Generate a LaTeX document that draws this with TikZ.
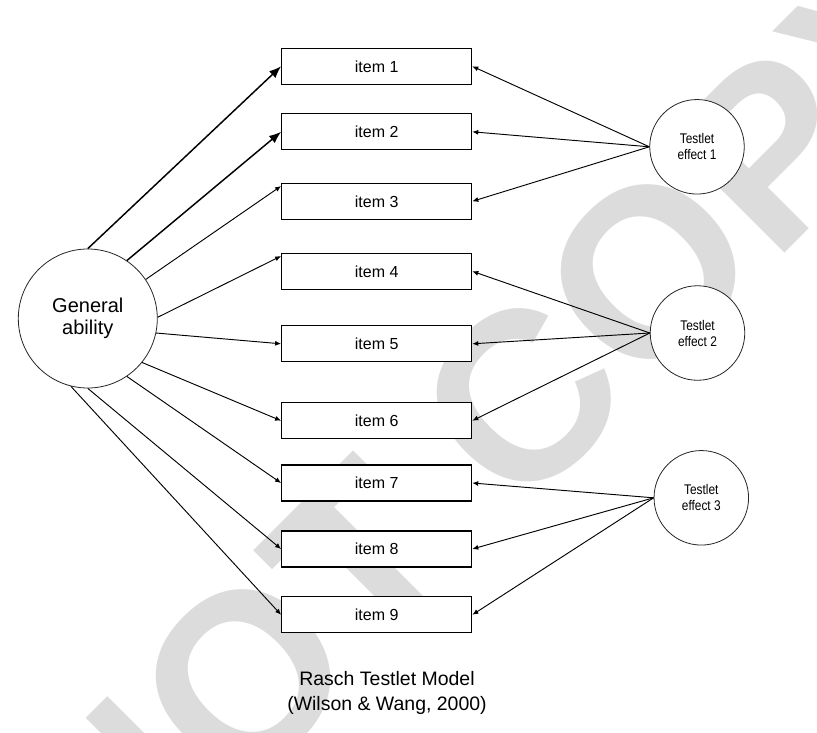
\documentclass[tikz,border=0pt]{standalone}
\usepackage{fontspec}
\setmainfont{Liberation Sans}
\newfontfamily\narrowsans[FakeStretch=0.85]{Liberation Sans}
\newfontfamily\wmfont{Liberation Sans Bold}
\usetikzlibrary{arrows.meta,calc}
\definecolor{wmgray}{HTML}{DCDCDC}
\tikzset{
  itembox/.style={draw, line width=0.9pt, fill=white, minimum width=142.5pt,
    minimum height=27pt, inner sep=0pt, font=\fontsize{12}{14}\selectfont},
  latent/.style={circle, draw=black!85, line width=0.6pt, fill=white, inner sep=0pt},
  gastyle/.style={latent, minimum size=104.25pt, align=center,
    font=\fontsize{15}{16.3}\selectfont},
  testletstyle/.style={latent, minimum size=70.9pt, align=center,
    font=\narrowsans\fontsize{10.5}{12}\selectfont},
  bigarrow/.style={line width=1.1pt, -{Latex[length=9pt,width=7pt]}},
  smallarrow/.style={line width=0.7pt, -{Latex[length=4.5pt,width=3.8pt]}},
  captext/.style={anchor=base, inner sep=0pt, font=\fontsize{14.6}{17}\selectfont},
  watermark/.style={anchor=base west, inner sep=0pt, rotate=45, text=wmgray,
    font=\wmfont\fontsize{180}{180}\selectfont}
}
\begin{document}
\begin{tikzpicture}[x=0.75pt,y=-0.75pt]
\useasboundingbox (0,0) rectangle (817,732);
\begin{scope}
  \clip (0,0) rectangle (817,732);
  \node[watermark] (wm) at (113.3,924.3) {NOT COPY};
\end{scope}

% items
\node[itembox] (i1) at (376.7,66.3) {item 1};
\node[itembox] (i2) at (376.7,131.8) {item 2};
\node[itembox] (i3) at (376.7,201.3) {item 3};
\node[itembox] (i4) at (376.7,271.3) {item 4};
\node[itembox] (i5) at (376.7,343.8) {item 5};
\node[itembox] (i6) at (376.7,420.7) {item 6};
\node[itembox] (i7) at (376.7,483.0) {item 7};
\node[itembox] (i8) at (376.7,549.0) {item 8};
\node[itembox] (i9) at (376.7,614.8) {item 9};

% latent variables
\node[gastyle] (ga) at (87.8,318.5) {General\\ability};
\node[testletstyle] (t1) at (697.0,146.8) {Testlet\\effect 1};
\node[testletstyle] (t2) at (697.5,333.0) {Testlet\\effect 2};
\node[testletstyle] (t3) at (701.3,497.8) {Testlet\\effect 3};

% general ability arrows
\draw[bigarrow] (ga.90) -- (i1.west);
\draw[bigarrow] (ga.56) -- (i2.west);
\draw[smallarrow] (ga.34) -- ([yshift=-2.5pt]i3.north west);
\draw[smallarrow] (ga.1) -- ([yshift=-2.5pt]i4.north west);
\draw[smallarrow] (ga.-12) -- (i5.west);
\draw[smallarrow] (ga.-39) -- (i6.west);
\draw[smallarrow] (ga.-56) -- (i7.west);
\draw[smallarrow] (ga.-90) -- (i8.west);
\draw[smallarrow] (ga.-104) -- (i9.west);

% testlet arrows
\draw[smallarrow] (t1.west) -- (i1.east);
\draw[smallarrow] (t1.west) -- (i2.east);
\draw[smallarrow] (t1.west) -- (i3.east);
\draw[smallarrow] (t2.west) -- (i4.east);
\draw[smallarrow] (t2.west) -- (i5.east);
\draw[smallarrow] (t2.west) -- (i6.east);
\draw[smallarrow] (t3.west) -- (i7.east);
\draw[smallarrow] (t3.west) -- (i8.east);
\draw[smallarrow] (t3.west) -- (i9.east);

% caption
\node[captext] (cap1) at (387,685.7) {Rasch Testlet Model};
\node[captext] (cap2) at (387,710.0) {(Wilson \& Wang, 2000)};
\end{tikzpicture}
\end{document}
